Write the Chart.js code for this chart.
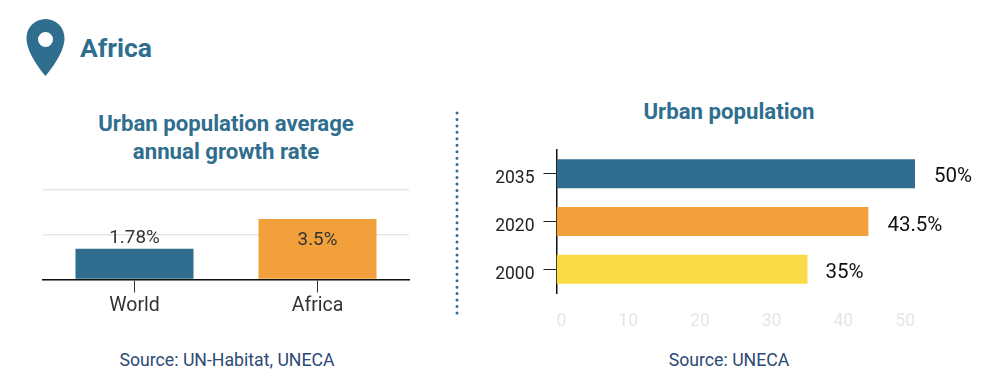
<!DOCTYPE html>
<html>
<head>
<meta charset="utf-8">
<title>Africa</title>
<script src="https://cdn.jsdelivr.net/npm/chart.js@4"></script>
<style>
  html, body { margin: 0; padding: 0; background: #fff; }
  #page { position: relative; width: 1000px; height: 391px; overflow: hidden; font-family: Roboto, sans-serif; }
  #page canvas, #page svg, #page div { position: absolute; }
  .title { color: #2f6e8e; font-weight: 700; font-size: 22.2px; line-height: 28px; text-align: center; }
  .source { color: #2c4a76; font-size: 17.7px; line-height: 20px; text-align: center; }
</style>
</head>
<body>
<div id="page">
  <svg style="left:0;top:0" width="100" height="90">
    <path fill="#2f6e8e" fill-rule="evenodd" d="M45.5 19C35 19 26.5 27.5 26.5 38C26.5 52 39 68 45.5 76C52 68 64.5 52 64.5 38C64.5 27.5 56 19 45.5 19ZM45.5 32A7.5 7.5 0 1 1 45.5 47A7.5 7.5 0 1 1 45.5 32Z"/>
  </svg>
  <div style="left:80px;top:31px;color:#2f6e8e;font-weight:700;font-size:26.5px;line-height:34px">Africa</div>
  <div class="title" style="left:42px;top:109px;width:368px">Urban population average<br>annual growth rate</div>
  <div class="title" style="left:580px;top:97px;width:298px">Urban population</div>
  <div class="source" style="left:43px;top:350px;width:368px">Source: UN-Habitat, UNECA</div>
  <div class="source" style="left:580px;top:350px;width:298px">Source: UNECA</div>
  <svg style="left:450px;top:105px" width="14" height="220">
    <line x1="7" y1="8" x2="7" y2="210" stroke="#2f6e8e" stroke-width="3" stroke-linecap="round" stroke-dasharray="0 6.45"/>
  </svg>
  <canvas id="growth" width="450" height="391" style="left:0;top:0"></canvas>
  <canvas id="urban" width="530" height="391" style="left:470px;top:0"></canvas>
</div>
<script>
const BLUE = '#2f6e8e'
const ORANGE = '#f2a03c'
const YELLOW = '#f9da47'

// left chart
const growthCategories = ['World', 'Africa']
const growthValues = [1.78, 3.5]
const growthLabels = ['1.78%', '3.5%']
const growthTicks = [0, 2.6, 5.2]

// right chart
const urbanYears = ['2035', '2020', '2000']
const urbanValues = [50, 43.5, 35]
const urbanLabels = ['50%', '43.5%', '35%']
const urbanTicks = [0, 10, 20, 30, 40, 50]

// chart.js has no value labels of its own, so draw them from the bar elements
const barText = (labels, font, color, align, offsets) => ({
  id: 'barText',
  afterDatasetsDraw(chart) {
    const ctx = chart.ctx
    ctx.save()
    ctx.font = font
    ctx.fillStyle = color
    ctx.textAlign = align
    ctx.textBaseline = 'middle'
    chart.getDatasetMeta(0).data.forEach((bar, i) => {
      ctx.fillText(labels[i], bar.x + offsets[i][0], bar.y + offsets[i][1])
    })
    ctx.restore()
  }
})

new Chart(document.getElementById('growth'), {
  type: 'bar',
  data: {
    labels: growthCategories,
    datasets: [{
      data: growthValues,
      backgroundColor: [BLUE, ORANGE],
      categoryPercentage: 1,
      barPercentage: 0.645
    }]
  },
  options: {
    responsive: false,
    animation: false,
    layout: { padding: { left: 43, right: 41, top: 189.5, bottom: 0 } },
    plugins: { legend: { display: false }, tooltip: { enabled: false } },
    scales: {
      x: {
        afterFit: (scale) => { scale.height = 111.5 },
        border: { color: '#111', width: 1.5 },
        grid: { offset: false, drawOnChartArea: false, tickLength: 13, tickColor: '#333', tickWidth: 1 },
        ticks: { color: '#333', font: { family: 'Roboto', size: 19.5 }, padding: 2, maxRotation: 0 }
      },
      y: {
        min: 0,
        max: 5.2,
        afterFit: (scale) => { scale.width = 0 },
        afterBuildTicks: (scale) => { scale.ticks = growthTicks.map(value => ({ value })) },
        border: { display: false },
        grid: { color: '#e6e6e6', lineWidth: 1.5, drawTicks: false },
        ticks: { display: false }
      }
    }
  },
  plugins: [barText(growthLabels, '18.8px Roboto', '#333', 'center', [[0, -10], [0, 21]])]
})

new Chart(document.getElementById('urban'), {
  type: 'bar',
  data: {
    labels: urbanYears,
    datasets: [{
      data: urbanValues,
      backgroundColor: [BLUE, ORANGE, YELLOW],
      categoryPercentage: 1,
      barPercentage: 0.61
    }]
  },
  options: {
    indexAxis: 'y',
    responsive: false,
    animation: false,
    layout: { padding: { left: 0, right: 85, top: 150, bottom: 0 } },
    plugins: { legend: { display: false }, tooltip: { enabled: false } },
    scales: {
      x: {
        min: 0,
        max: 50,
        afterFit: (scale) => { scale.height = 98 },
        afterBuildTicks: (scale) => { scale.ticks = urbanTicks.map(value => ({ value })) },
        border: { display: false },
        grid: { display: false },
        ticks: { color: '#e6e6e6', font: { family: 'Roboto', size: 17.5 }, padding: 10, align: 'inner', maxRotation: 0 }
      },
      y: {
        afterFit: (scale) => { scale.width = 86.5 },
        border: { color: '#111', width: 1.5 },
        grid: { offset: false, drawOnChartArea: false, tickLength: 13, tickColor: '#222', tickWidth: 1 },
        ticks: { color: '#222', font: { family: 'Roboto', size: 17.5 }, padding: 9, labelOffset: 5 }
      }
    }
  },
  plugins: [barText(urbanLabels, '20.5px Roboto', '#111', 'left', [[19, 3], [19, 4], [18, 4]])]
})
</script>
</body>
</html>
